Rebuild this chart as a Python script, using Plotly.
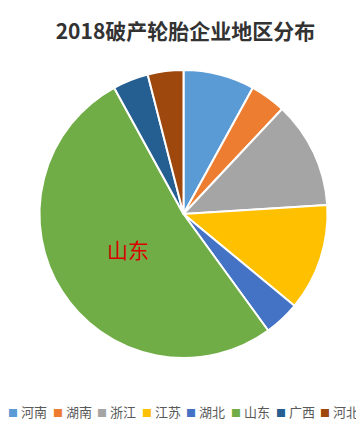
import plotly.graph_objects as go

labels = ["河南", "湖南", "浙江", "江苏", "湖北", "山东", "广西", "河北"]
values = [2, 1, 3, 3, 1, 13, 1, 1]
colors = ["#5B9BD5", "#ED7D31", "#A5A5A5", "#FFC000", "#4472C4", "#70AD47", "#255E91", "#9E480E"]
title_text = "2018破产轮胎企业地区分布"
highlight = "山东"

# page body has an 8px margin: figure occupies the visible window minus that offset
OFF = 8
W, H = 364 - OFF, 423 - OFF


def px(x):
    return (x - OFF) / W


def py(y):
    return 1 - (y - OFF) / H


cx, cy, r = 183.5, 214, 144
fig = go.Figure(go.Pie(
    labels=labels, values=values, sort=False, direction="clockwise", rotation=0,
    marker=dict(colors=colors, line=dict(color="white", width=2)),
    textinfo="none", hoverinfo="label+value+percent", showlegend=False,
    domain=dict(x=[px(cx - r), px(cx + r)], y=[py(cy + r), py(cy - r)]),
))

fig.add_annotation(
    text=highlight, x=px(128), y=py(249), xref="paper", yref="paper",
    showarrow=False, font=dict(family="Noto Sans CJK SC", size=21, color="#D90000"),
)

# legend row
x0, step = 6, 44.6
for i, (lab, col) in enumerate(zip(labels, colors)):
    fig.add_annotation(
        text=f'<span style="color:{col};font-size:10px">■</span> {lab}',
        x=px(x0 + i * step), y=py(411), xref="paper", yref="paper",
        xanchor="left", yanchor="middle", showarrow=False,
        font=dict(family="Noto Sans CJK SC", size=13, color="#595959"),
    )

fig.update_layout(
    width=W, height=H, margin=dict(l=0, r=0, t=0, b=0),
    paper_bgcolor="white", plot_bgcolor="white",
    title=dict(text=f"<b>{title_text}</b>", x=px(185.5), xanchor="center", y=py(32), yanchor="middle",
               font=dict(family="Noto Sans CJK SC", size=21, color="#333333")),
)

fig.write_html("out.html")
